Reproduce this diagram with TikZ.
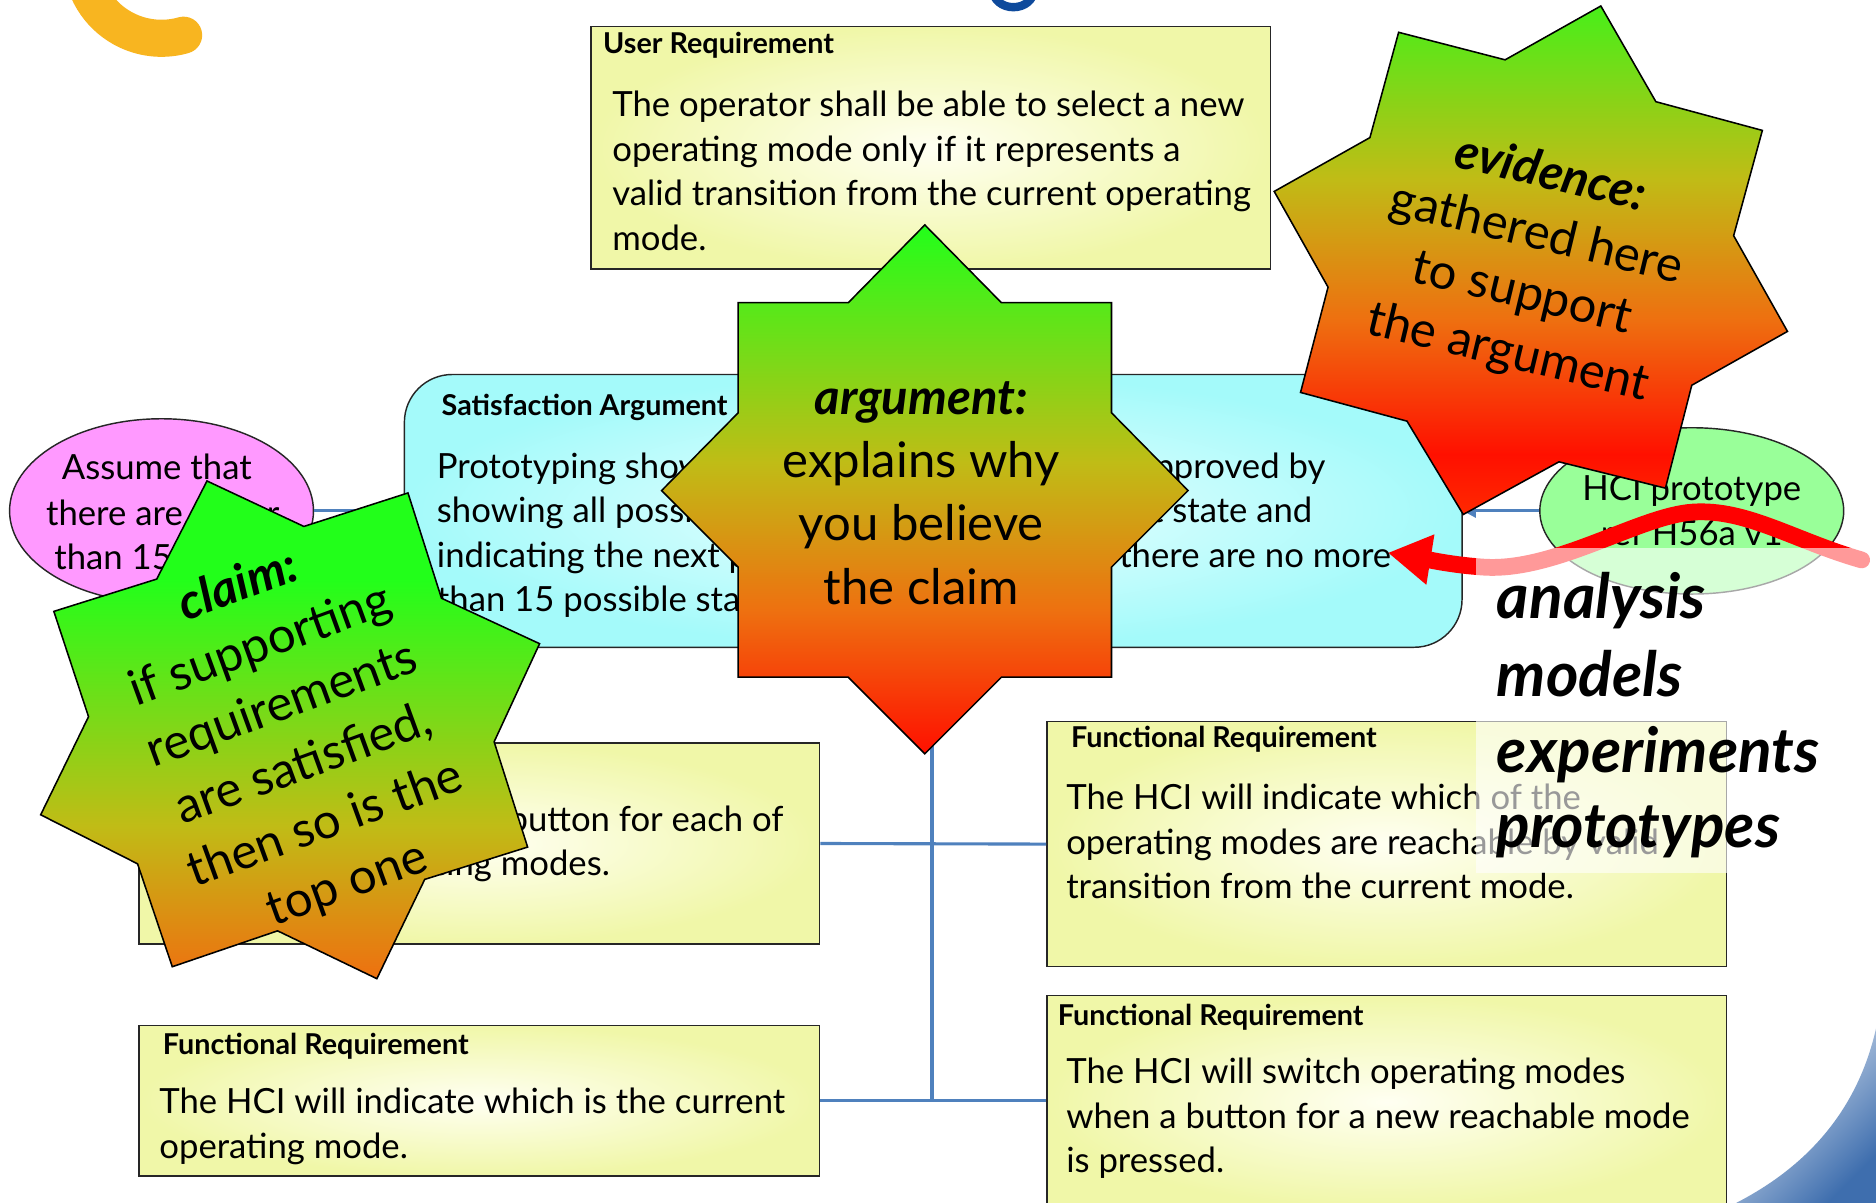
\documentclass[tikz,border=0pt]{standalone}
\usepackage{fontspec}
\setmainfont{Lato}
\usetikzlibrary{arrows.meta,shapes.geometric}

\definecolor{boxY}{RGB}{240,247,168}
\definecolor{boxYc}{RGB}{255,255,242}
\definecolor{boxC}{RGB}{164,250,250}
\definecolor{boxCc}{RGB}{236,255,255}
\definecolor{ellP}{RGB}{255,153,255}
\definecolor{ellG}{RGB}{153,255,153}
\definecolor{linkB}{RGB}{79,129,189}
\definecolor{stG}{RGB}{34,255,26}
\definecolor{stO}{RGB}{192,188,22}
\definecolor{stOr}{RGB}{238,112,16}
\definecolor{stR}{RGB}{255,16,0}
\definecolor{stRb}{RGB}{255,60,0}
\definecolor{arcO}{RGB}{248,181,32}
\definecolor{titleB}{RGB}{14,74,156}
\definecolor{swB}{RGB}{62,110,174}
\definecolor{waveR}{RGB}{255,0,0}

\newcommand\bodyfont{\fontsize{29}{37.3}\selectfont}
\newcommand\headfont{\bfseries\fontsize{24}{28}\selectfont}
\newcommand\starfont{\fontsize{41}{53}\selectfont}
\newcommand\evifont{\fontsize{41}{51}\selectfont}
\newcommand\bigbifont{\bfseries\itshape\fontsize{52}{64}\selectfont}

% star outlines
\def\argpath{(773,188) -- (837,253) -- (929,253) -- (929,345) -- (993,410) -- (929,474) -- (929,566) -- (837,566) -- (773,630) -- (709,566) -- (617,566) -- (617,474) -- (553,410) -- (617,345) -- (617,253) -- (709,253) -- cycle}
\def\claimpath{(173,402) -- (254,440) -- (341,412) -- (369,500) -- (451,538) -- (413,620) -- (441,708) -- (355,735) -- (315,818) -- (232,778) -- (144,808) -- (115,722) -- (34,681) -- (74,599) -- (45,511) -- (131,484) -- cycle}
\def\evipath{(1338,5) -- (1384,85) -- (1473,109) -- (1449,197) -- (1494,277) -- (1414,322) -- (1392,408) -- (1303,386) -- (1223,430) -- (1176,352) -- (1087,328) -- (1110,240) -- (1065,160) -- (1145,115) -- (1169,27) -- (1258,50) -- cycle}

% green-to-red burst: #1 outline, #2 y where green ends, #3 y where red is reached
\newcommand\gradstar[3]{%
  \begin{scope}
    \clip #1;
    \pgfmathsetmacro\gsA{#2+0.45*(#3-#2)}%
    \pgfmathsetmacro\gsB{#2+0.73*(#3-#2)}%
    \fill[stG] (-100,-100) rectangle (1700,#2);
    \shade[top color=stG, bottom color=stO] (-100,#2) rectangle (1700,\gsA);
    \shade[top color=stO, bottom color=stOr] (-100,\gsA) rectangle (1700,\gsB);
    \shade[top color=stOr, bottom color=stR] (-100,\gsB) rectangle (1700,#3);
    \shade[top color=stR, bottom color=stRb] (-100,#3) rectangle (1700,#3+90);
  \end{scope}
  \draw[black, line width=1.3pt, line join=miter] #1;}

\tikzset{
  ybox/.style={draw=black!85, line width=1.2pt, rectangle, inner sep=0pt,
    inner color=boxYc, outer color=boxY},
  cbox/.style={draw=black!85, line width=1.2pt, rectangle, rounded corners=40pt,
    inner sep=0pt, inner color=boxCc, outer color=boxC},
  ell/.style={draw=black!85, line width=1.2pt, ellipse, inner sep=0pt},
  hd/.style={anchor=base west, inner sep=0pt, font=\headfont},
  bd/.style={anchor=base west, inner sep=0pt, font=\bodyfont},
  bdr/.style={anchor=base east, inner sep=0pt, font=\bodyfont},
  bdc/.style={anchor=base, inner sep=0pt, font=\bodyfont},
  startext/.style={align=center, inner sep=0pt, font=\starfont},
  bi/.style={anchor=base west, inner sep=0pt, font=\bigbifont},
  link/.style={draw=linkB, line width=2.6pt},
  linkarrow/.style={link, -{Triangle[length=11pt,width=11pt]}},
  wave/.style={draw=waveR, line width=14pt, line cap=round,
    -{Triangle[length=36pt,width=40pt]}}
}

\begin{document}
\begin{tikzpicture}[x=1pt,y=-1pt]
\useasboundingbox (0,0) rectangle (1568,1005);
\fill[white] (0,0) rectangle (1568,1005);

% slide decorations
\draw[arcO, line width=31pt, line cap=round] (135,-35) ++(175:67) arc[start angle=175, end angle=74, radius=67];
\draw[titleB, line width=7pt] (847,-8) ellipse[x radius=17, y radius=14];
\begin{scope}
  \clip (1570,850) .. controls (1556,925) and (1512,975) .. (1448,1007) -- (1570,1007) -- cycle;
  \shade[top color=white, middle color=white!45!swB, bottom color=swB, shading angle=45] (1440,840) rectangle (1570,1007);
\end{scope}

% requirement boxes
\node[ybox, minimum width=568pt, minimum height=203pt] (ur) at (778,123.5) {};
\node[cbox, minimum width=884pt, minimum height=228pt] (sa) at (780,427) {};
\node[ybox, minimum width=569pt, minimum height=168pt] (fr1) at (400.5,705) {};
\node[ybox, minimum width=568pt, minimum height=205pt] (fr2) at (1159,705.5) {};
\node[ybox, minimum width=569pt, minimum height=126pt] (fr3) at (400.5,920) {};
\node[ybox, minimum width=568pt, minimum height=178pt] (fr4) at (1159,921) {};
\node[ell, fill=ellP, minimum width=254pt, minimum height=154pt] (assume) at (135,427) {};
\node[ell, fill=ellG, minimum width=254pt, minimum height=139pt] (hci) at (1414,427) {};

% box texts
\node[hd] (urT) at (504,44.6) {User Requirement};
\node[bd] (ur1) at (511.6,97.5) {The operator shall be able to select a new};
\node[bd] (ur2) at (511.6,134.8) {operating mode only if it represents a};
\node[bd] (ur3) at (511.6,172.1) {valid transition from the current operating};
\node[bd] (ur4) at (511.6,209.4) {mode.};

\node[hd] (saT) at (369,347) {Satisfaction Argument};
\node[bd] (sa1a) at (365,400) {Prototyping shows that};
\node[bdr] (sa1b) at (1108,400) {has been approved by};
\node[bd] (sa2a) at (365,437) {showing all possible};
\node[bdr] (sa2b) at (1097,437) {modes from the current state and};
\node[bd] (sa3a) at (365,474) {indicating the next possible};
\node[bdr] (sa3b) at (1163,474) {modes, and there are no more};
\node[bd] (sa4) at (365,511) {than 15 possible states.};

\node[hd] (fr1T) at (136,643) {Functional Requirement};
\node[bdr] (fr1a) at (655,695) {The HCI will provide a button for each of};
\node[bdr] (fr1b) at (510,732) {the operating modes.};

\node[hd] (fr2T) at (895,625) {Functional Requirement};
\node[bd] (fr2a) at (891,677) {The HCI will indicate which of the};
\node[bd] (fr2b) at (891,714) {operating modes are reachable by valid};
\node[bd] (fr2c) at (891,751) {transition from the current mode.};

\node[hd] (fr3T) at (136,881) {Functional Requirement};
\node[bd] (fr3a) at (133,931) {The HCI will indicate which is the current};
\node[bd] (fr3b) at (133,968) {operating mode.};

\node[hd] (fr4T) at (884,857) {Functional Requirement};
\node[bd] (fr4a) at (891,906) {The HCI will switch operating modes};
\node[bd] (fr4b) at (891,943) {when a button for a new reachable mode};
\node[bd] (fr4c) at (891,980) {is pressed.};

\node[bdc] (as1) at (131,401) {Assume that};
\node[bdc] (as2) at (136,439) {there are fewer};
\node[bdc] (as3) at (136,476) {than 15 states};

\node[bdc] (hc1) at (1414,418) {HCI prototype};
\node[bdc] (hc2) at (1414,456) {ref H56a v1};

% links of the argument tree
\coordinate (busTop) at (779,541);
\coordinate (busBot) at (779,920);
\draw[link] (busBot) -- (busTop);
\draw[link] (fr1.east) -- (fr2.west);
\draw[link] (fr3.east) -- (fr4.west |- fr3.east);
\draw[linkarrow] (sa.north -| busTop) -- (ur.south -| busTop);
\draw[linkarrow] (assume.east) -- (assume.east -| sa.west);
\draw[linkarrow] (hci.west) -- (hci.west -| sa.east);

% bursts
\gradstar{\argpath}{188}{630}
\node[startext] (argtxt) at (770,412) {\textbf{\textit{argument:}}\\explains why\\you believe\\the claim};

\gradstar{\claimpath}{484}{941}
\node[startext, rotate=20] (claimtxt) at (245,615) {\textbf{\textit{claim:}}\\if supporting\\requirements\\are satisfied,\\then so is the\\top one};

\gradstar{\evipath}{-40}{380}
\node[startext, font=\evifont, rotate=-13.5] (evtxt) at (1278,221) {\textbf{\textit{evidence:}}\\gathered here\\to support\\the argument};

% evidence arrow
\coordinate (waveStart) at (1556,468);
\coordinate (wavePeak) at (1415,428);
\coordinate (waveLow) at (1240,474);
\coordinate (waveTip) at (1160,462);
\draw[wave] (waveStart) .. controls (1500,452) and (1460,425) .. (wavePeak)
  .. controls (1370,431) and (1300,478) .. (waveLow)
  .. controls (1210,472) and (1185,466) .. (waveTip);

% kinds of evidence
\fill[white, opacity=0.6] (1234,458) rectangle (1570,730);
\node[bi] (ev1) at (1251,517) {analysis};
\node[bi] (ev2) at (1251,582) {models};
\node[bi] (ev3) at (1251,646) {experiments};
\node[bi] (ev4) at (1251,708) {prototypes};
\end{tikzpicture}
\end{document}
